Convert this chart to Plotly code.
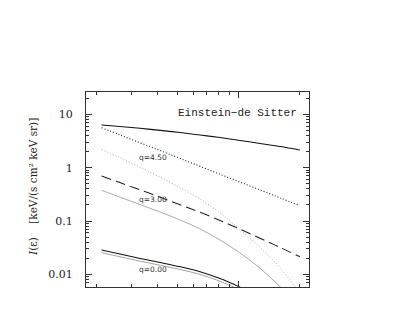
import math
import plotly.graph_objects as go

# ---- data ----
E = [2.13, 2.62, 3.29, 4.14, 5.17, 6.48, 8.12, 10, 12.75, 16, 20]
top_solid = [6.32, 5.92, 5.47, 5.01, 4.55, 4.10, 3.67, 3.28, 2.85, 2.49, 2.15]
dot_black = [5.62, 4.12, 2.93, 2.09, 1.488, 1.058, 0.752, 0.551, 0.382, 0.272, 0.194]
dot_gray = [2.21, 1.54, 1.017, 0.661, 0.422, 0.259, 0.1415, 0.0731, 0.0320, 0.01333, 0.00447]
dash_black = [0.699, 0.526, 0.384, 0.279, 0.2015, 0.1458, 0.1023, 0.0724, 0.0477, 0.0320, 0.0214]
thin_gray = [0.377, 0.281, 0.2033, 0.147, 0.1045, 0.0710, 0.0441, 0.0263, 0.01305, 0.00587, 0.00255]
low_black = [0.0286, 0.0241, 0.0199, 0.01662, 0.01386, 0.01122, 0.00833, 0.00592, 0.00376, 0.00239, 0.00152]
low_gray = [0.0255, 0.0214, 0.0177, 0.01479, 0.01234, 0.00999, 0.00741, 0.00527, 0.00335, 0.00213, 0.00135]

y_tickvals = [0.01, 0.1, 1, 10]
y_ticktext = ["0.01", "0.1", "1", "10"]

labels = ["q=4.50", "q=3.00", "q=0.00"]
label_x = [3.81, 3.81, 3.81]
label_y = [1.52, 0.2556, 0.01245]

fig = go.Figure()
def add(y, color, width, dash="solid"):
    fig.add_trace(go.Scatter(x=E, y=y, mode="lines",
                             line=dict(color=color, width=width, dash=dash,
                                       shape="spline", smoothing=1.0)))

add(top_solid, "#111", 1.05)
add(dot_black, "#222", 1.1, "1px,2px")
add(dot_gray, "#a8a8a8", 1.0, "1px,2px")
add(dash_black, "#222", 1.05, "10px,5px")
add(thin_gray, "#a0a0a0", 0.9)
add(low_black, "#111", 1.05)
add(low_gray, "#999", 0.9)

for t, lx, ly in zip(labels, label_x, label_y):
    fig.add_annotation(x=math.log10(lx), y=math.log10(ly), text=t, showarrow=False,
                       xanchor="center", yanchor="middle",
                       font=dict(family="DejaVu Sans", size=7.5, color="#333"))

fig.add_annotation(xref="paper", yref="paper", x=0.6816, y=0.892,
                   xanchor="center", yanchor="middle",
                   text="Einstein\u2212de Sitter", showarrow=False,
                   font=dict(family="Liberation Mono", size=11, color="#222"))

fig.add_annotation(xref="paper", yref="paper", x=-0.2377, y=0.513,
                   xanchor="center", yanchor="middle",
                   text="<i>I</i>(\u03b5)\u00a0\u00a0\u00a0\u00a0[keV/(s cm\u00b2 keV sr)]",
                   textangle=-90, showarrow=False,
                   font=dict(family="DejaVu Serif", size=10.5, color="#222"))

fig.update_layout(
    width=399, height=319,
    margin=dict(l=78, r=98, t=84, b=40),
    paper_bgcolor="white", plot_bgcolor="white",
    showlegend=False,
)
fig.update_xaxes(
    type="log", range=[0.252, 1.3458],
    showline=True, linecolor="#333", linewidth=1, mirror="allticks",
    ticks="inside", ticklen=6, tickcolor="#333",
    tickmode="array", tickvals=[10], showticklabels=False,
    showgrid=False, zeroline=False,
    minor=dict(ticks="inside", ticklen=3, tickcolor="#333", dtick="D1", showgrid=False),
)
fig.update_yaxes(
    type="log", range=[-2.237, 1.419],
    showline=True, linecolor="#333", linewidth=1, mirror="allticks",
    ticks="inside", ticklen=6, tickcolor="#333",
    tickmode="array", tickvals=y_tickvals, ticktext=y_ticktext,
    tickfont=dict(family="DejaVu Serif", size=11, color="#222"),
    ticklabelstandoff=10,
    showgrid=False, zeroline=False,
    minor=dict(ticks="inside", ticklen=3, tickcolor="#333", dtick="D1", showgrid=False),
)

fig.write_html("out.html")
